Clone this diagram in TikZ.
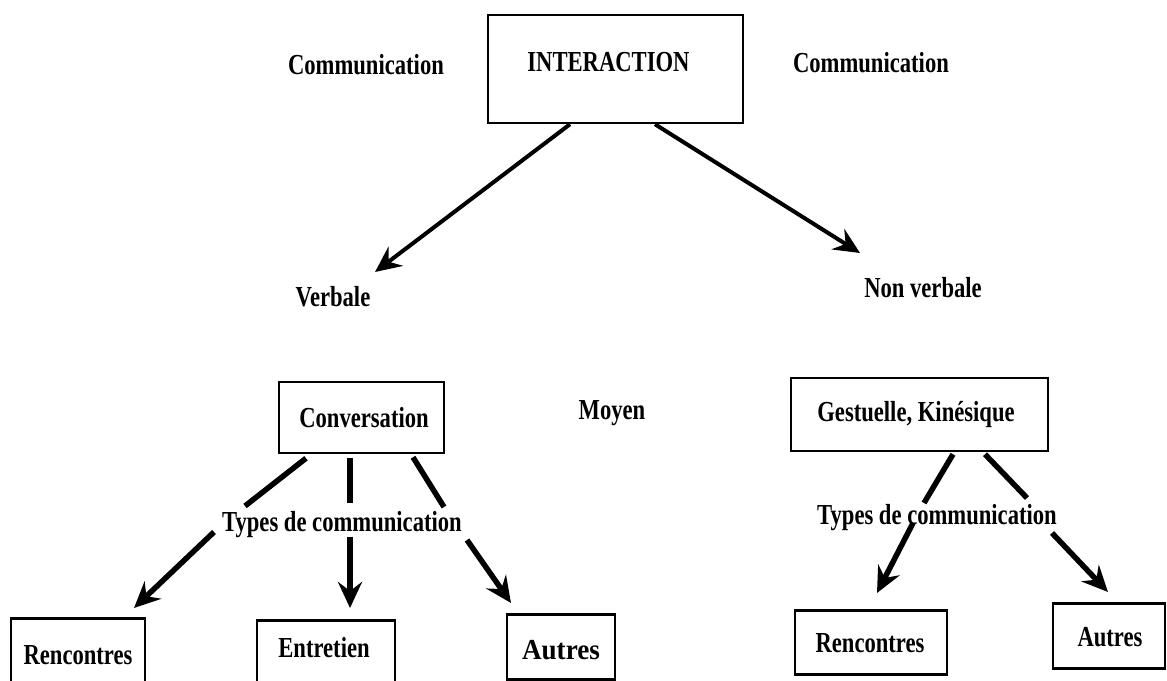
\documentclass[tikz,border=0pt]{standalone}
\usepackage{fontspec}
\setmainfont{Liberation Serif}[FakeStretch=0.78]
\usetikzlibrary{arrows.meta,calc}

\tikzset{
  word/.style={inner sep=0pt, font=\fontsize{29}{33}\selectfont\bfseries},
  framebox/.style={draw, line width=2.5pt, inner sep=0pt},
  link/.style={line width=5.5pt},
  thinlink/.style={line width=4pt},
  tip/.style={-{Stealth[length=26pt,width=24pt,inset=9pt]}},
}

\begin{document}
\begin{tikzpicture}[x=1pt,y=-1pt]
\useasboundingbox (0,0) rectangle (1167,680);
\clip (0,0) rectangle (1167,680);

% top level
\node[framebox, minimum width=255pt, minimum height=108pt] (inter) at (615.5,69) {};
\node[word] (intertxt) at ($(inter.center)+(-7,-7)$) {INTERACTION};
\node[word] (commL) at (366,65) {Communication};
\node[word] (commR) at (871,63) {Communication};
\node[word] (verb) at (333,297) {Verbale};
\node[word] (nonverb) at (923,288) {Non verbale};

\draw[thinlink, tip] ($(inter.south)+(-45.5,0)$) -- ($(verb.center)+(42,-25)$);
\draw[thinlink, tip] ($(inter.south)+(39.5,0)$) -- ($(nonverb.center)+(-63,-35)$);

% verbal branch
\node[framebox, minimum width=165pt, minimum height=71pt] (conv) at (361.5,417.5) {};
\node[word] (convtxt) at ($(conv.center)+(2.5,0)$) {Conversation};
\node[word] (moyen) at (612,413) {Moyen};
\node[word] (types1) at (342,525) {Types de communication};

\node[framebox, minimum width=134pt, minimum height=64pt, anchor=north] (renc1) at (78,617) {};
\node[word] (renc1txt) at ($(renc1.north)+(0,38)$) {Rencontres};
\node[framebox, minimum width=138pt, minimum height=62pt, anchor=north] (entr) at (326,619) {};
\node[word] (entrtxt) at ($(entr.north)+(-2,29)$) {Entretien};
\node[framebox, minimum width=108pt, minimum height=65pt, anchor=north] (autr1) at (561,613) {};
\node[word, xscale=1.2] (autr1txt) at ($(autr1.north)+(0,37)$) {Autres};

\draw[link] ($(conv.south)+(-55.5,4)$) -- ($(types1.center)+(-97,-19)$);
\draw[link] ($(conv.south)+(-11.5,4)$) -- ($(types1.center)+(8,-22)$);
\draw[link] ($(conv.south)+(51.5,3)$) -- ($(types1.center)+(102,-18)$);

\draw[link, tip] ($(types1.center)+(-128,7)$) -- ($(renc1.north)+(56,-9)$);
\draw[link, tip] ($(types1.center)+(8,12)$) -- ($(entr.north)+(24,-11)$);
\draw[link, tip] ($(types1.center)+(125,15)$) -- ($(autr1.north)+(-50,-10)$);

% non-verbal branch
\node[framebox, minimum width=257pt, minimum height=73pt] (gest) at (919.5,414.5) {};
\node[word] (gesttxt) at ($(gest.center)+(-3.5,0.5)$) {Gestuelle, Kinésique};
\node[word] (types2) at (937,518) {Types de communication};

\node[framebox, minimum width=152pt, minimum height=64pt, anchor=north] (renc2) at (871,609) {};
\node[word] (renc2txt) at ($(renc2.north)+(-1,34)$) {Rencontres};
\node[framebox, minimum width=112pt, minimum height=65pt, anchor=north] (autr2) at (1109,602) {};
\node[word] (autr2txt) at ($(autr2.north)+(1,35)$) {Autres};

\draw[link] ($(gest.south)+(33.5,2)$) -- ($(types2.center)+(-13,-15)$);
\draw[link] ($(gest.south)+(65.5,2)$) -- ($(types2.center)+(90,-20)$);

\draw[link, tip] ($(types2.center)+(-24,5)$) -- ($(renc2.north)+(6,-16)$);
\draw[link, tip] ($(types2.center)+(115,15)$) -- ($(autr2.north)+(-1,-10)$);
\end{tikzpicture}
\end{document}
